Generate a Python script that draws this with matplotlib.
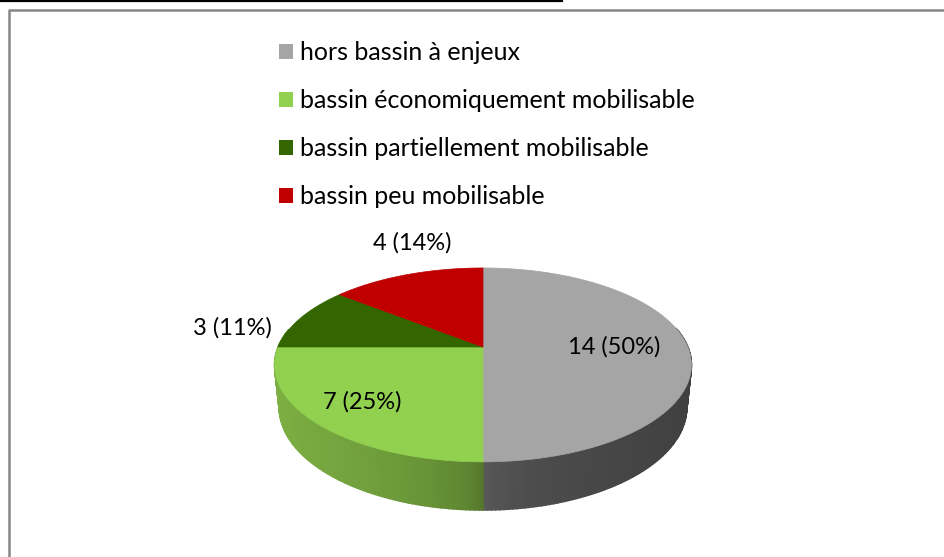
import numpy as np
import matplotlib
matplotlib.use("Agg")
import matplotlib.pyplot as plt
from matplotlib.patches import Polygon, Patch

# data
labels = ["hors bassin à enjeux", "bassin économiquement mobilisable",
          "bassin partiellement mobilisable", "bassin peu mobilisable"]
values = [14, 7, 3, 4]
top_colors = ["#A5A5A5", "#92D050", "#336600", "#C00000"]
side_dark = ["#404040", "#4E6E28", "#203F00", "#780000"]
side_light = ["#5E5E5E", "#7CB043", "#3D7A00", "#D01010"]

# 3d pie geometry (pixels)
CX, CY = 483, 347
F, D = 985.0, 4.81
PHI = np.arcsin(0.4573)
H = 0.235


def proj(theta, r=1.0, h=0.0):
    x = r * np.cos(theta)
    z = r * np.sin(theta)
    depth = h * np.sin(PHI) + z * np.cos(PHI)
    up = h * np.cos(PHI) - z * np.sin(PHI)
    k = F / (D - depth)
    return CX + x * k, CY - up * k


plt.rcParams["font.family"] = ["Lato", "DejaVu Sans"]
fig = plt.figure(figsize=(9.45, 5.57), dpi=100)
ax = fig.add_axes([0, 0, 1, 1])
ax.set_xlim(0, 945)
ax.set_ylim(557, 0)
ax.axis("off")

# page bits: cut off underline and chart frame
ax.plot([0, 562], [0.8, 0.8], color="black", lw=1.6)
ax.plot([8.5, 8.5, 945], [557, 9.5, 9.5], color="#878787", lw=1.8)

total = sum(values)
starts = []
a = -np.pi / 2
for v in values:
    starts.append((a, a + 2 * np.pi * v / total))
    a += 2 * np.pi * v / total

# side walls, drawn as thin shaded strips
for i, (t0, t1) in enumerate(starts):
    ts = np.linspace(t0, t1, max(int(np.degrees(t1 - t0)), 2) + 1)
    c0 = np.array(matplotlib.colors.to_rgb(side_dark[i]))
    c1 = np.array(matplotlib.colors.to_rgb(side_light[i]))
    for ta, tb in zip(ts[:-1], ts[1:]):
        tm = 0.5 * (ta + tb)
        if np.sin(tm) < -0.2:
            continue
        cs = np.cos(tm)
        # lighter toward the left, dark just left of the front
        if cs > 0:
            w = 1 - cs ** 0.35
        else:
            w = (-cs) ** 0.4
        col = c0 + (c1 - c0) * w
        pa, pb = proj(ta), proj(tb)
        qa, qb = proj(ta, h=-H), proj(tb, h=-H)
        ax.add_patch(Polygon([pa, pb, qb, qa], closed=True, facecolor=col,
                             edgecolor=col, lw=1.2))

# top faces
for i, (t0, t1) in enumerate(starts):
    ts = np.linspace(t0, t1, 120)
    xs, ys = proj(ts)
    pts = [(CX, CY)] + list(zip(xs, ys))
    ax.add_patch(Polygon(pts, closed=True, facecolor=top_colors[i],
                         edgecolor=top_colors[i], lw=0.5))

# data labels
label_r = [0.64, 0.75, 1.0, 1.0]
label_off = [(0, 0), (0, 0), (-29, 10), (5, -32)]
label_ha = ["center", "center", "right", "center"]
for i, (t0, t1) in enumerate(starts):
    tm = 0.5 * (t0 + t1)
    x, y = proj(tm, r=label_r[i])
    pct = round(100 * values[i] / total)
    ax.text(x + label_off[i][0], y + label_off[i][1],
            f"{values[i]} ({pct}%)", ha=label_ha[i], va="center",
            fontsize=17, color="black")

handles = [Patch(facecolor=c, edgecolor="none") for c in top_colors]
ax.legend(handles, labels, loc="upper left",
          bbox_to_anchor=(279 / 945, 1 - 41 / 557),
          frameon=False, fontsize=18, handlelength=0.56, handleheight=0.56,
          handletextpad=0.28, labelspacing=1.0, borderpad=0, borderaxespad=0)

fig.savefig("out.png", dpi=100)
